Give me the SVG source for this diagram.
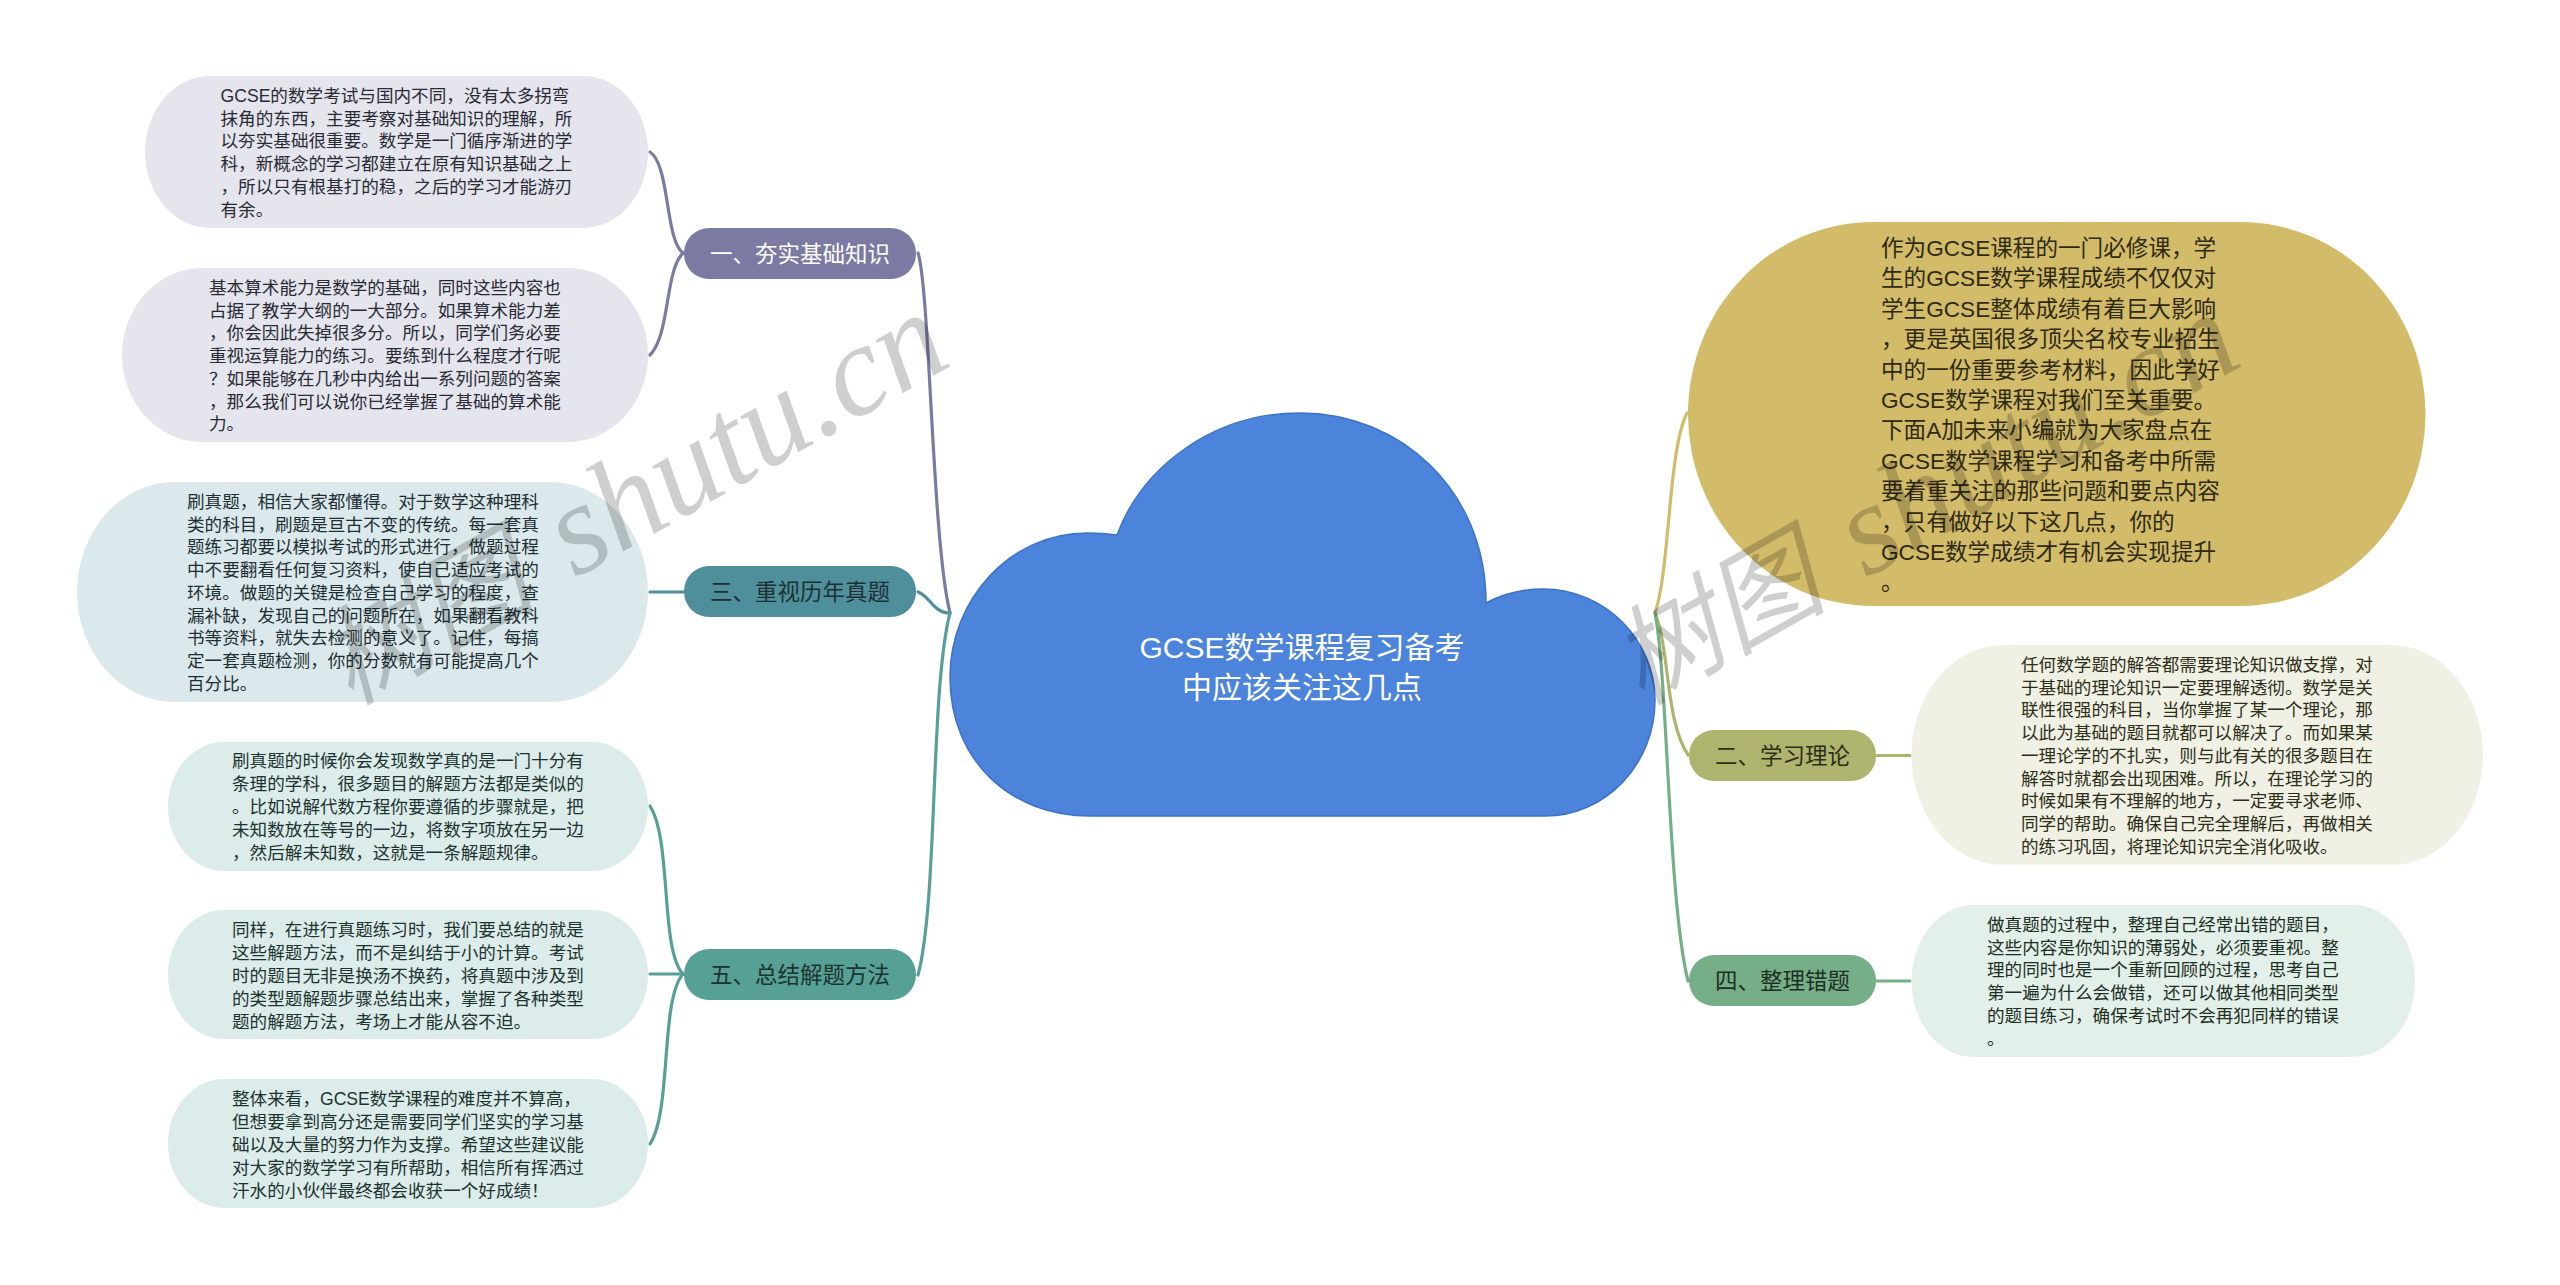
<svg xmlns="http://www.w3.org/2000/svg" width="2560" height="1285" viewBox="0 0 2560 1285">
<style>
text{font-family:"Liberation Sans","Noto Sans CJK SC",sans-serif}
.c{font-size:17.6px}
.t{font-size:22.5px;text-anchor:middle}
.big{font-size:22.6px;fill:#2f2a12}
.root{font-size:30px;fill:#fff;text-anchor:middle}
.conn path{fill:none;stroke-width:3.2;stroke-linecap:round}
.wm{font-family:"Liberation Serif","Noto Sans CJK SC",serif;font-style:italic;font-size:130px;fill:#000;fill-opacity:.19}
.wm .h{font-size:108px}
</style>
<rect width="2560" height="1285" fill="#fff"/>
<g id="connectors" class="conn">
<path stroke="#7b7aa3" d="M918 253C930 290 932 540 950 613"/>
<path stroke="#4f8f9b" d="M918 592C930 596 933 613 950 613"/>
<path stroke="#57a095" d="M918 975C938 900 930 690 950 613"/>
<path stroke="#d2bb69" d="M1655 613C1670 570 1668 450 1687 413"/>
<path stroke="#aeb36e" d="M1655 613C1670 650 1665 720 1688 755"/>
<path stroke="#75ae87" d="M1655 613C1668 680 1668 900 1688 981"/>
<path stroke="#7b7aa3" d="M683 253C665 240 670 165 650 152"/>
<path stroke="#7b7aa3" d="M683 253C665 270 670 335 650 355"/>
<path stroke="#4f8f9b" d="M650 592H684"/>
<path stroke="#57a095" d="M683 974C660 950 672 840 650 806"/>
<path stroke="#57a095" d="M650 974H684"/>
<path stroke="#57a095" d="M683 974C660 1000 672 1110 650 1144"/>
<path stroke="#aeb36e" d="M1877 755.500H1910"/>
<path stroke="#75ae87" d="M1877 981H1910"/>
</g>
<g id="root">
<path fill="#4c84db" stroke="#3c72c8" stroke-width="1.500" d="M1090 816C1010 816 950 760 950 677C950 600 1010 533 1087 533Q1103 533 1117 535C1143 465 1215 413 1300 413C1400 413 1486 490 1486 603C1503 594 1522 589 1543 589C1605 589 1655 640 1655 700C1655 765 1605 816 1545 816Z"/>
<text class="root"><tspan x="1302" y="658">GCSE数学课程复习备考</tspan><tspan x="1302" y="698">中应该关注这几点</tspan></text>
</g>
<g id="topic1"><rect x="684" y="228" width="232" height="51" rx="25" fill="#7b7aa3"/><text class="t" x="800" y="262" fill="#fff">一、夯实基础知识</text></g>
<g id="topic3"><rect x="684" y="566" width="232" height="51" rx="25" fill="#4f8f9b"/><text class="t" x="800" y="600" fill="#1d2f33">三、重视历年真题</text></g>
<g id="topic5"><rect x="684" y="949" width="232" height="51" rx="25" fill="#57a095"/><text class="t" x="800" y="983" fill="#1d3330">五、总结解题方法</text></g>
<g id="topic2"><rect x="1689" y="730" width="187" height="51" rx="25" fill="#aeb36e"/><text class="t" x="1782.500" y="764" fill="#2c2e18">二、学习理论</text></g>
<g id="topic4"><rect x="1689" y="955" width="187" height="51" rx="25" fill="#75ae87"/><text class="t" x="1782.500" y="989" fill="#1d2f24">四、整理错题</text></g>
<g id="n1"><rect x="145" y="76" width="503" height="152" rx="65" ry="76" fill="#e4e5ed"/>
<text class="c" fill="#2a2a35"><tspan x="220.500" y="102">GCSE的数学考试与国内不同，没有太多拐弯</tspan><tspan x="220.500" dy="22.700">抹角的东西，主要考察对基础知识的理解，所</tspan><tspan x="220.500" dy="22.700">以夯实基础很重要。数学是一门循序渐进的学</tspan><tspan x="220.500" dy="22.700">科，新概念的学习都建立在原有知识基础之上</tspan><tspan x="220.500" dy="22.700">，所以只有根基打的稳，之后的学习才能游刃</tspan><tspan x="220.500" dy="22.700">有余。</tspan></text></g>
<g id="n2"><rect x="122" y="268" width="526" height="174" rx="80" ry="87" fill="#e4e5ed"/>
<text class="c" fill="#2a2a35"><tspan x="209" y="294">基本算术能力是数学的基础，同时这些内容也</tspan><tspan x="209" dy="22.700">占据了教学大纲的一大部分。如果算术能力差</tspan><tspan x="209" dy="22.700">，你会因此失掉很多分。所以，同学们务必要</tspan><tspan x="209" dy="22.700">重视运算能力的练习。要练到什么程度才行呢</tspan><tspan x="209" dy="22.700">？如果能够在几秒中内给出一系列问题的答案</tspan><tspan x="209" dy="22.700">，那么我们可以说你已经掌握了基础的算术能</tspan><tspan x="209" dy="22.700">力。</tspan></text></g>
<g id="n3"><rect x="77" y="482" width="571" height="220" rx="98" ry="110" fill="#dce9ec"/>
<text class="c" fill="#1d2f33"><tspan x="187" y="508">刷真题，相信大家都懂得。对于数学这种理科</tspan><tspan x="187" dy="22.700">类的科目，刷题是亘古不变的传统。每一套真</tspan><tspan x="187" dy="22.700">题练习都要以模拟考试的形式进行，做题过程</tspan><tspan x="187" dy="22.700">中不要翻看任何复习资料，使自己适应考试的</tspan><tspan x="187" dy="22.700">环境。做题的关键是检查自己学习的程度，查</tspan><tspan x="187" dy="22.700">漏补缺，发现自己的问题所在，如果翻看教科</tspan><tspan x="187" dy="22.700">书等资料，就失去检测的意义了。记住，每搞</tspan><tspan x="187" dy="22.700">定一套真题检测，你的分数就有可能提高几个</tspan><tspan x="187" dy="22.700">百分比。</tspan></text></g>
<g id="n5a"><rect x="168" y="742" width="480" height="129" rx="56" ry="64.500" fill="#dcecea"/>
<text class="c" fill="#1d3330"><tspan x="232" y="767">刷真题的时候你会发现数学真的是一门十分有</tspan><tspan x="232" dy="22.900">条理的学科，很多题目的解题方法都是类似的</tspan><tspan x="232" dy="22.900">。比如说解代数方程你要遵循的步骤就是，把</tspan><tspan x="232" dy="22.900">未知数放在等号的一边，将数字项放在另一边</tspan><tspan x="232" dy="22.900">，然后解未知数，这就是一条解题规律。</tspan></text></g>
<g id="n5b"><rect x="168" y="910" width="480" height="129" rx="56" ry="64.500" fill="#dcecea"/>
<text class="c" fill="#1d3330"><tspan x="232" y="936">同样，在进行真题练习时，我们要总结的就是</tspan><tspan x="232" dy="22.900">这些解题方法，而不是纠结于小的计算。考试</tspan><tspan x="232" dy="22.900">时的题目无非是换汤不换药，将真题中涉及到</tspan><tspan x="232" dy="22.900">的类型题解题步骤总结出来，掌握了各种类型</tspan><tspan x="232" dy="22.900">题的解题方法，考场上才能从容不迫。</tspan></text></g>
<g id="n5c"><rect x="168" y="1079" width="480" height="129" rx="56" ry="64.500" fill="#dcecea"/>
<text class="c" fill="#1d3330"><tspan x="232" y="1105">整体来看，GCSE数学课程的难度并不算高，</tspan><tspan x="232" dy="22.900">但想要拿到高分还是需要同学们坚实的学习基</tspan><tspan x="232" dy="22.900">础以及大量的努力作为支撑。希望这些建议能</tspan><tspan x="232" dy="22.900">对大家的数学学习有所帮助，相信所有挥洒过</tspan><tspan x="232" dy="22.900">汗水的小伙伴最终都会收获一个好成绩！</tspan></text></g>
<g id="big"><rect x="1688" y="222" width="737.500" height="384" rx="185" ry="192" fill="#d2bb69"/>
<text class="big"><tspan x="1881" y="256">作为GCSE课程的一门必修课，学</tspan><tspan x="1881" dy="30.400">生的GCSE数学课程成绩不仅仅对</tspan><tspan x="1881" dy="30.400">学生GCSE整体成绩有着巨大影响</tspan><tspan x="1881" dy="30.400">，更是英国很多顶尖名校专业招生</tspan><tspan x="1881" dy="30.400">中的一份重要参考材料，因此学好</tspan><tspan x="1881" dy="30.400">GCSE数学课程对我们至关重要。</tspan><tspan x="1881" dy="30.400">下面A加未来小编就为大家盘点在</tspan><tspan x="1881" dy="30.400">GCSE数学课程学习和备考中所需</tspan><tspan x="1881" dy="30.400">要着重关注的那些问题和要点内容</tspan><tspan x="1881" dy="30.400">，只有做好以下这几点，你的</tspan><tspan x="1881" dy="30.400">GCSE数学成绩才有机会实现提升</tspan><tspan x="1881" dy="30.400">。</tspan></text></g>
<g id="r2"><rect x="1911.500" y="645" width="571.500" height="220" rx="92" ry="110" fill="#f0f1e4"/>
<text class="c" fill="#2c2e18"><tspan x="2021" y="671">任何数学题的解答都需要理论知识做支撑，对</tspan><tspan x="2021" dy="22.700">于基础的理论知识一定要理解透彻。数学是关</tspan><tspan x="2021" dy="22.700">联性很强的科目，当你掌握了某一个理论，那</tspan><tspan x="2021" dy="22.700">以此为基础的题目就都可以解决了。而如果某</tspan><tspan x="2021" dy="22.700">一理论学的不扎实，则与此有关的很多题目在</tspan><tspan x="2021" dy="22.700">解答时就都会出现困难。所以，在理论学习的</tspan><tspan x="2021" dy="22.700">时候如果有不理解的地方，一定要寻求老师、</tspan><tspan x="2021" dy="22.700">同学的帮助。确保自己完全理解后，再做相关</tspan><tspan x="2021" dy="22.700">的练习巩固，将理论知识完全消化吸收。</tspan></text></g>
<g id="r4"><rect x="1911.500" y="905" width="503.500" height="152" rx="62" ry="76" fill="#e3efe9"/>
<text class="c" fill="#1d2f24"><tspan x="1987" y="931">做真题的过程中，整理自己经常出错的题目，</tspan><tspan x="1987" dy="22.700">这些内容是你知识的薄弱处，必须要重视。整</tspan><tspan x="1987" dy="22.700">理的同时也是一个重新回顾的过程，思考自己</tspan><tspan x="1987" dy="22.700">第一遍为什么会做错，还可以做其他相同类型</tspan><tspan x="1987" dy="22.700">的题目练习，确保考试时不会再犯同样的错误</tspan><tspan x="1987" dy="22.700">。</tspan></text></g>
<g id="watermarks">
<text class="wm" transform="translate(350 706) rotate(-29.500)"><tspan class="h">树图</tspan><tspan dx="10"> shutu.cn</tspan></text>
<text class="wm" transform="translate(1641 706) rotate(-29.500)"><tspan class="h">树图</tspan><tspan dx="10"> shutu.cn</tspan></text>
</g>
</svg>
